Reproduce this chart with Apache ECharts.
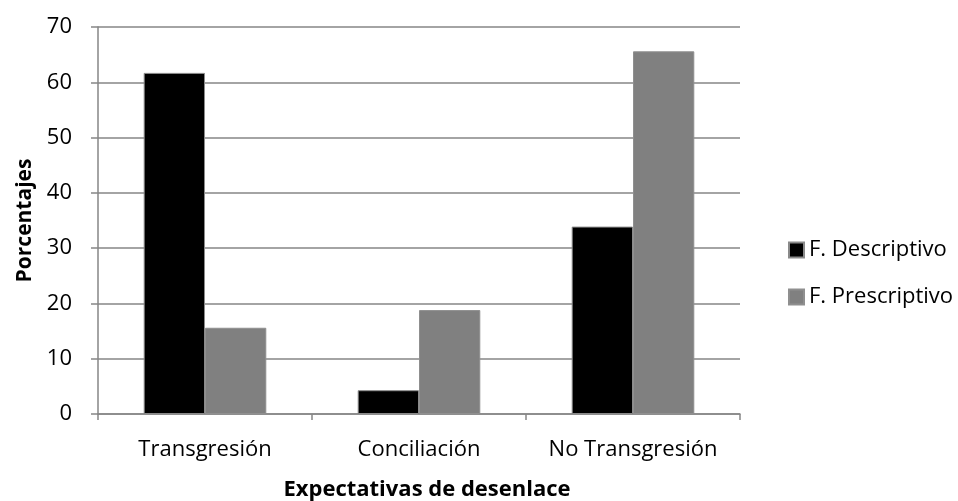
<!DOCTYPE html>
<html>
<head>
<meta charset="utf-8">
<title>Expectativas de desenlace</title>
<script src="https://cdn.jsdelivr.net/npm/echarts@6/dist/echarts.min.js"></script>
<style>
  html, body { margin: 0; padding: 0; background: #ffffff; }
  #chart { width: 958px; height: 501px; }
</style>
</head>
<body>
<div id="chart"></div>
<script>
// Categorías del eje X
const categories = ['Transgresión', 'Conciliación', 'No Transgresión'];
// Porcentajes por tipo de formato
const descriptivo = [61.7, 4.3, 33.9];
const prescriptivo = [15.6, 18.8, 65.6];
// Eje Y
const yTicks = [0, 10, 20, 30, 40, 50, 60, 70];

const FONT = '"Open Sans", "Noto Sans", sans-serif';
const AXIS_GRAY = '#868686';

const chart = echarts.init(document.getElementById('chart'), null, { renderer: 'canvas' });

chart.setOption({
  animation: false,
  backgroundColor: '#ffffff',
  textStyle: { fontFamily: FONT, color: '#000000' },
  grid: { left: 98, right: 218, top: 27, bottom: 87, containLabel: false, outerBoundsMode: 'none' },
  legend: {
    orient: 'vertical',
    left: 783,
    top: 234,
    itemWidth: 15,
    itemHeight: 15,
    itemGap: 25,
    icon: 'rect',
    textStyle: { fontFamily: FONT, fontSize: 22, lineHeight: 22, color: '#000000' },
    data: ['F. Descriptivo', 'F. Prescriptivo']
  },
  xAxis: {
    type: 'category',
    data: categories,
    name: 'Expectativas de desenlace',
    nameLocation: 'middle',
    nameGap: 65,
    nameTextStyle: { fontFamily: FONT, fontSize: 22, fontWeight: 'bold', color: '#000000', padding: [0, 0, 0, 16] },
    axisLine: { show: true, lineStyle: { color: AXIS_GRAY, width: 1.5 } },
    axisTick: { show: true, alignWithLabel: false, length: 6, lineStyle: { color: AXIS_GRAY, width: 1.5 } },
    axisLabel: { interval: 0, fontFamily: FONT, fontSize: 22, color: '#000000', margin: 25 },
    splitLine: { show: false }
  },
  yAxis: {
    type: 'value',
    min: yTicks[0],
    max: yTicks[yTicks.length - 1],
    interval: 10,
    name: 'Porcentajes',
    nameLocation: 'middle',
    nameGap: 60,
    nameRotate: 90,
    nameTextStyle: { fontFamily: FONT, fontSize: 21, fontWeight: 'bold', color: '#000000' },
    axisLine: { show: true, lineStyle: { color: AXIS_GRAY, width: 1.5 } },
    axisTick: { show: true, length: 7, lineStyle: { color: AXIS_GRAY, width: 1.5 } },
    axisLabel: { fontFamily: FONT, fontSize: 22, color: '#000000', margin: 26 },
    splitLine: { show: true, lineStyle: { color: AXIS_GRAY, width: 1.5 } }
  },
  series: [
    {
      name: 'F. Descriptivo',
      type: 'bar',
      data: descriptivo,
      barGap: '0%',
      barCategoryGap: '42.7%',
      itemStyle: { color: '#000000', borderColor: '#8a8a8a', borderWidth: 1 }
    },
    {
      name: 'F. Prescriptivo',
      type: 'bar',
      data: prescriptivo,
      barGap: '0%',
      barCategoryGap: '42.7%',
      itemStyle: { color: '#808080', borderColor: '#8f8f8f', borderWidth: 1 }
    }
  ]
});
</script>
</body>
</html>
